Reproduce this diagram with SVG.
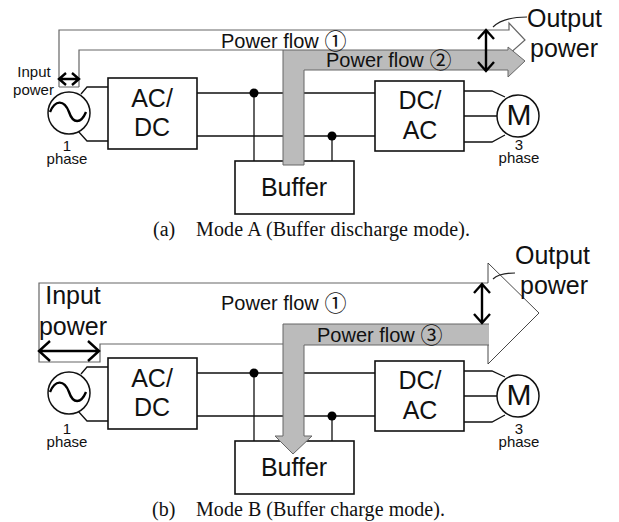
<svg xmlns="http://www.w3.org/2000/svg" width="619" height="522" viewBox="0 0 619 522">
<style>
.s{font-family:"Liberation Sans",Arial,sans-serif;fill:#111}
.c{font-family:"Liberation Serif","Times New Roman",serif;font-size:20px;fill:#111}
.m{text-anchor:middle}
.b{fill:#fff;stroke:#111;stroke-width:1.6}
.w{fill:none;stroke:#111;stroke-width:1.3}
.f{fill:#fff;stroke:#111;stroke-width:1.5}
.o{fill:none;stroke:#666;stroke-width:1.2}
.t{fill:none;stroke:#333;stroke-width:0.9}
.a{fill:none;stroke:#000;stroke-width:2.4}
.n{font-family:"Noto Sans CJK JP",sans-serif;font-size:22px}
.d{fill:#000}
</style>
<rect width="619" height="522" fill="#fff"/>
<g id="connectors">
<path class="w" d="M108 87H87L81 94M108 141H87L78 131M197 93H375M197 136H375M254 93V161M332 136V161M464 91H492L505 97M464 116H497M464 142H492L505 135"/>
<circle class="d" cx="254" cy="93" r="4.5"/><circle class="d" cx="332" cy="136" r="4.5"/>
<path class="w" d="M108 367H87L81 374M108 421H87L78 411M197 373H375M197 416H375M254 373V441M332 416V441M464 371H492L505 377M464 396H497M464 422H492L505 415"/>
<circle class="d" cx="254" cy="373" r="4.5"/><circle class="d" cx="332" cy="416" r="4.5"/>
</g>
<g id="buffer-a"><rect class="b" x="235" y="161" width="119" height="53"/><text class="s m" x="294" y="196" font-size="25">Buffer</text></g>
<g id="buffer-b"><rect class="b" x="235" y="441" width="119" height="53"/><text class="s m" x="294" y="476" font-size="25">Buffer</text></g>
<g id="flow-a">
<path class="o" d="M59 87V30H509V23L525 40L508 55M79 87V50H283M59 87H79"/>
<path d="M283 165V50H508V47L525 61L508 77V70H304V165Z" fill="#bbb" stroke="#666" stroke-width="1"/>
<path class="a" d="M486 31V70M478 39L486 30L494 39M478 62L486 71L494 62"/>
<path class="a" d="M59 79H79M66 73L59 79L66 85M72 73L79 79L72 85"/>
<path d="M493 27C500 20 510 17 527 17" fill="none" stroke="#222" stroke-width="1.2"/>
</g>
<g id="flow-b">
<path class="o" d="M488 283H39V362H100V344H283"/>
<path class="t" d="M488 283V263L539 313L488 364V345"/>
<path d="M283 324H489V345H304V436H312L293 454L275 436H283Z" fill="#bbb" stroke="none"/>
<path d="M489 324H283V436H275L293 454L312 436H304V345H489" fill="none" stroke="#666" stroke-width="1"/>
<path class="a" d="M482 284V323M474 293L482 284L490 293M474 314L482 323L490 314"/>
<path class="a" d="M39 351H99M50 341L39 351L50 361M88 341L99 351L88 361"/>
<path d="M493 279C498 274 505 273 515 273" fill="none" stroke="#222" stroke-width="1.2"/>
</g>
<g id="source-a"><circle class="f" cx="69" cy="113" r="21"/><path class="a" d="M51 112C56 100 65 99 70 112C74 124 82 124 87 112" transform="translate(-1)"/></g>
<g id="acdc-a"><rect class="b" x="108" y="78" width="89" height="71"/><text class="s m" x="152" y="107" font-size="25">AC/</text><text class="s m" x="152" y="136" font-size="25">DC</text></g>
<g id="dcac-a"><rect class="b" x="375" y="81" width="89" height="70"/><text class="s m" x="420" y="109" font-size="25">DC/</text><text class="s m" x="420" y="139" font-size="25">AC</text></g>
<g id="motor-a"><circle class="f" cx="518" cy="116" r="21"/><text class="s m" x="519" y="125" font-size="30">M</text></g>
<g id="labels-a">
<text class="s" x="221" y="48" font-size="20">Power flow <tspan class="n" dy="1">①</tspan></text>
<text class="s" x="326" y="67" font-size="20">Power flow <tspan class="n" dy="1">②</tspan></text>
<text class="s m" font-size="15"><tspan x="34" y="77">Input</tspan><tspan x="33.5" y="95">power</tspan></text>
<text class="s m" font-size="15"><tspan x="67" y="151">1</tspan><tspan x="67" y="164">phase</tspan></text>
<text class="s m" font-size="15"><tspan x="519" y="150">3</tspan><tspan x="519" y="163">phase</tspan></text>
<text class="s" x="527" y="27" font-size="25">Output</text><text class="s" x="530" y="57" font-size="25">power</text>
<text class="c" x="153" y="236">(a)</text><text class="c" x="196" y="236" textLength="274" lengthAdjust="spacing">Mode A (Buffer discharge mode).</text>
</g>
<g id="source-b"><circle class="f" cx="69" cy="393" r="21"/><path class="a" d="M51 392C56 380 65 379 70 392C74 404 82 404 87 392" transform="translate(-1)"/></g>
<g id="acdc-b"><rect class="b" x="108" y="358" width="89" height="71"/><text class="s m" x="152" y="387" font-size="25">AC/</text><text class="s m" x="152" y="416" font-size="25">DC</text></g>
<g id="dcac-b"><rect class="b" x="375" y="361" width="89" height="70"/><text class="s m" x="420" y="389" font-size="25">DC/</text><text class="s m" x="420" y="419" font-size="25">AC</text></g>
<g id="motor-b"><circle class="f" cx="518" cy="396" r="21"/><text class="s m" x="519" y="405" font-size="30">M</text></g>
<g id="labels-b">
<text class="s" x="221" y="310" font-size="20">Power flow <tspan class="n" dy="1">①</tspan></text>
<text class="s" x="317" y="342" font-size="20">Power flow <tspan class="n" dy="1">③</tspan></text>
<text class="s m" x="73" y="304" font-size="25">Input</text><text class="s m" x="73" y="335" font-size="25">power</text>
<text class="s m" font-size="15"><tspan x="67" y="434">1</tspan><tspan x="67" y="447">phase</tspan></text>
<text class="s m" font-size="15"><tspan x="519" y="434">3</tspan><tspan x="519" y="447">phase</tspan></text>
<text class="s" x="515" y="264" font-size="25">Output</text><text class="s" x="520" y="294" font-size="25">power</text>
<text class="c" x="152" y="516">(b)</text><text class="c" x="196" y="516" textLength="249" lengthAdjust="spacing">Mode B (Buffer charge mode).</text>
</g>
</svg>
